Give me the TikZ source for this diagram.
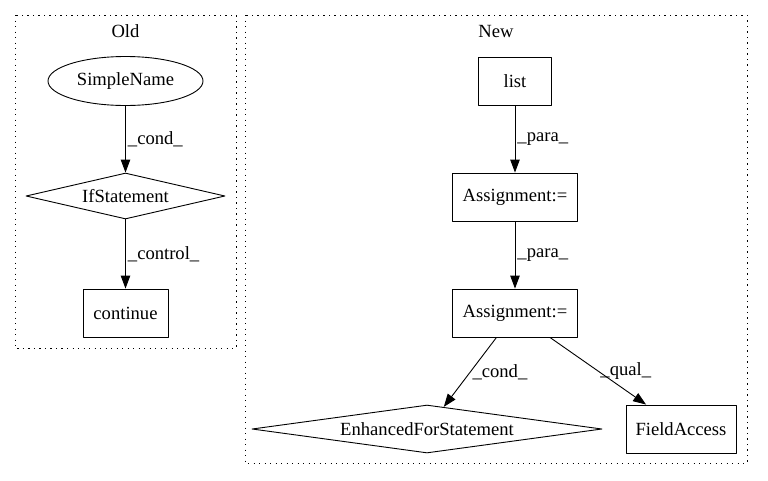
\documentclass[tikz,border=0pt]{standalone}
\usepackage{fontspec}
\setmainfont{Liberation Serif}
\usetikzlibrary{shapes.geometric,arrows.meta}
\begin{document}
\begin{tikzpicture}[x=1pt,y=-1pt,>={Triangle[length=13pt,width=9.5pt]},line join=round,
		font=\fontsize{18.6}{22}\selectfont,
		box/.style={draw,line width=0.9pt,rectangle,minimum height=48pt,inner sep=0pt},
		rhomb/.style={draw,line width=0.9pt,diamond,inner sep=0pt},
		oval/.style={draw,line width=0.9pt,ellipse,minimum width=155pt,minimum height=49pt,inner sep=0pt},
		cluster/.style={line width=1pt,dash pattern=on 1.3pt off 4.2pt},
		lab/.style={right,inner sep=2pt}]
	\useasboundingbox (0,0) rectangle (768,480);
	% clusters
	\draw[cluster] (15,15) rectangle (236,348);
	\draw[cluster] (245,15) rectangle (747,463);
	\node (old) at (125.5,31) {Old};
	\node (new) at (496,31) {New};
	% old graph
	\node[oval] (sn) at (125.5,81) {SimpleName};
	\node[rhomb,aspect=4.3,minimum width=199pt,minimum height=46pt] (if) at (125.5,196) {IfStatement};
	\node[box,minimum width=85pt] (cont) at (125.5,313) {continue};
	% new graph
	\node[box,minimum width=73pt] (list) at (515,81) {list};
	\node[box,minimum width=125pt] (asgA) at (515,197) {Assignment:=};
	\node[box,minimum width=125pt] (asgB) at (515,313) {Assignment:=};
	\node[rhomb,aspect=7.3,minimum width=350pt,minimum height=48pt] (efs) at (427,429) {EnhancedForStatement};
	\node[box,minimum width=110pt] (fa) at (681,429) {FieldAccess};
	% edges
	\foreach \s/\t/\l in {sn/if/cond,if/cont/control,list/asgA/para,asgA/asgB/para,asgB/efs/cond,asgB/fa/qual}
	\draw[->,line width=0.9pt] (\s) -- node[lab]{\_\l\_} (\t);
\end{tikzpicture}
\end{document}
